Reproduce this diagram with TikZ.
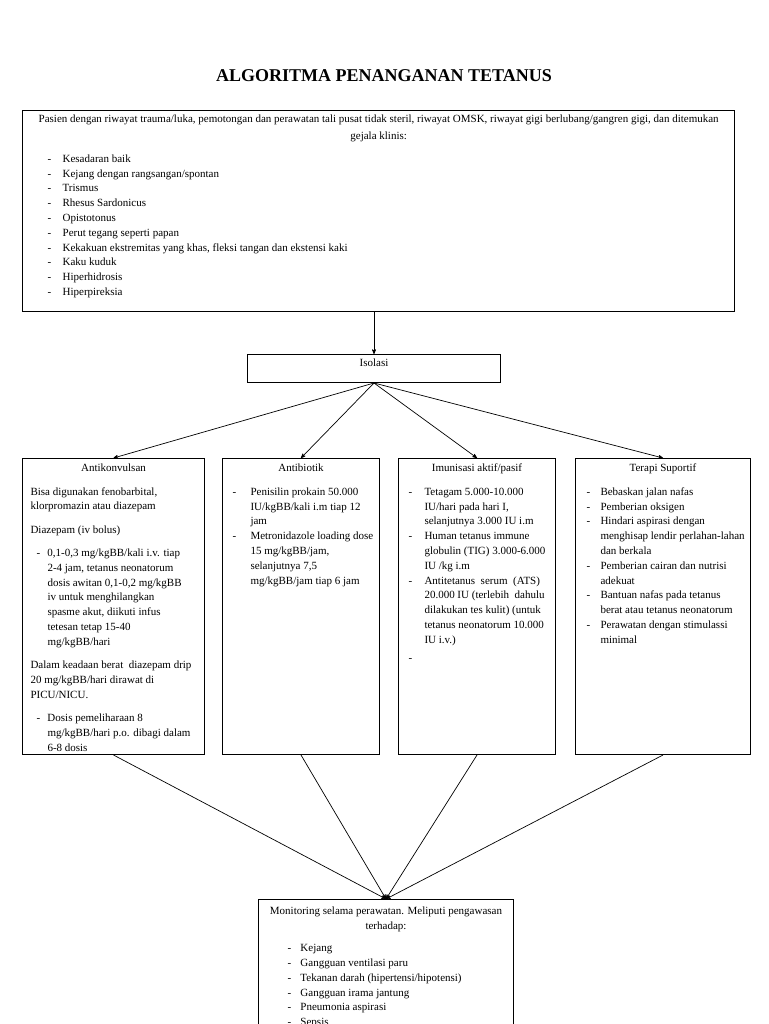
\documentclass[tikz,border=0pt]{standalone}
\usepackage{fontspec}
\setmainfont{Liberation Serif}
\usetikzlibrary{arrows,positioning}
\newlength\jarakdash
\newlength\jarakteks
% list item with a dash and hanging lines
\newcommand{\butir}[1]{\par\hangindent=\jarakteks\hangafter=1\noindent\hspace*{\jarakdash}\makebox[\dimexpr\jarakteks-\jarakdash\relax][l]{-}#1}
% margins of a box body
\newcommand{\badan}[3]{\parindent=0pt\leftskip=#1\rightskip=0pt plus 1fil\relax\setlength\jarakdash{#2}\setlength\jarakteks{#3}}
% centred heading of a box
\newcommand{\kepala}[2]{{\centering\rule{0pt}{#1}#2\par}}
\tikzset{
    %Define standard arrow tip
    >=stealth',
    font=\fontsize{11}{14.8}\selectfont,
    %Define style for boxes
    kotak/.style={
           rectangle,
           draw=black, line width=1pt,
           inner sep=0pt,
           anchor=north west},
    % Define arrow style
    panah/.style={
	   ->,
	   line width=0.7pt,
	   shorten >=0pt}
}

\begin{document}
\begin{tikzpicture}[x=1pt,y=-1pt]
  \clip (0,0) rectangle (768,1024);
  \node (judul) at (384,76) {\fontsize{18}{20}\selectfont\bfseries ALGORITMA PENANGANAN TETANUS};
  % gejala klinis
  \node[kotak, line width=1.3pt] (gejala) at (22,110) {\parbox[c][201pt][t]{712pt}{\badan{8pt}{17pt}{32pt}%
    {\centering\fontsize{11}{17}\selectfont\rule{0pt}{11.5pt}Pasien dengan riwayat trauma/luka, pemotongan dan perawatan tali pusat tidak steril, riwayat OMSK, riwayat gigi berlubang/gangren gigi, dan ditemukan\\ gejala klinis:\par}
    \vspace{8.3pt}
    \butir{Kesadaran baik}
    \butir{Kejang dengan rangsangan/spontan}
    \butir{Trismus}
    \butir{Rhesus Sardonicus}
    \butir{Opistotonus}
    \butir{Perut tegang seperti papan}
    \butir{Kekakuan ekstremitas yang khas, fleksi tangan dan ekstensi kaki}
    \butir{Kaku kuduk}
    \butir{Hiperhidrosis}
    \butir{Hiperpireksia}\par}};
  \node[kotak] (isolasi) at (247,354) {\parbox[c][28pt][t]{253pt}{\kepala{11.5pt}{Isolasi}}};
  % four treatment boxes
  \node[kotak] (antikonvulsan) at (22,458) {\parbox[c][296pt][t]{182pt}{\badan{8pt}{6pt}{17pt}%
    \kepala{13pt}{Antikonvulsan}
    \vspace{8.7pt}
    Bisa digunakan fenobarbital,\\ klorpromazin atau diazepam\par
    \vspace{8.5pt}
    Diazepam (iv bolus)\par
    \vspace{8.5pt}
    \butir{0,1-0,3 mg/kgBB/kali i.v. tiap\\ 2-4 jam, tetanus neonatorum\\ dosis awitan 0,1-0,2 mg/kgBB\\ iv untuk menghilangkan\\ spasme akut, diikuti infus\\ tetesan tetap 15-40\\ mg/kgBB/hari}\par
    \vspace{8.5pt}
    Dalam keadaan berat\ \ diazepam drip\\ 20 mg/kgBB/hari dirawat di\\ PICU/NICU.\par
    \vspace{8.5pt}
    \butir{Dosis pemeliharaan 8\\ mg/kgBB/hari p.o. dibagi dalam\\ 6-8 dosis}\par}};
  \node[kotak] (antibiotik) at (222,458) {\parbox[c][296pt][t]{157pt}{\badan{8pt}{2pt}{20pt}%
    \kepala{13pt}{Antibiotik}
    \vspace{9pt}
    \butir{Penisilin prokain 50.000\\ IU/kgBB/kali i.m tiap 12\\ jam}
    \butir{Metronidazole loading dose\\ 15 mg/kgBB/jam,\\ selanjutnya 7,5\\ mg/kgBB/jam tiap 6 jam}\par}};
  \node[kotak] (imunisasi) at (398,458) {\parbox[c][296pt][t]{157pt}{\badan{8pt}{2pt}{18pt}%
    \kepala{13pt}{Imunisasi aktif/pasif}
    \vspace{9pt}
    \butir{Tetagam 5.000-10.000\\ IU/hari pada hari I,\\ selanjutnya 3.000 IU i.m}
    \butir{Human tetanus immune\\ globulin (TIG) 3.000-6.000\\ IU /kg i.m}
    \butir{Antitetanus\ \ serum\ \ (ATS)\\ 20.000 IU (terlebih\ \ dahulu\\ dilakukan tes kulit) (untuk\\ tetanus neonatorum 10.000\\ IU i.v.)}\par
    \vspace{3pt}
    \butir{}\par}};
  \node[kotak] (terapi) at (575,458) {\parbox[c][296pt][t]{175pt}{\badan{8pt}{3pt}{17pt}%
    \kepala{13pt}{Terapi Suportif}
    \vspace{9pt}
    \butir{Bebaskan jalan nafas}
    \butir{Pemberian oksigen}
    \butir{Hindari aspirasi dengan\\ menghisap lendir perlahan-lahan\\ dan berkala}
    \butir{Pemberian cairan dan nutrisi\\ adekuat}
    \butir{Bantuan nafas pada tetanus\\ berat atau tetanus neonatorum}
    \butir{Perawatan dengan stimulassi\\ minimal}\par}};
  % monitoring
  \node[kotak] (monitoring) at (258,899) {\parbox[c][160pt][t]{255pt}{\badan{8pt}{21pt}{34pt}%
    {\centering\fontsize{11}{15}\selectfont\rule{0pt}{15pt}Monitoring selama perawatan. Meliputi pengawasan\\ terhadap:\par}
    \vspace{7.3pt}
    \butir{Kejang}
    \butir{Gangguan ventilasi paru}
    \butir{Tekanan darah (hipertensi/hipotensi)}
    \butir{Gangguan irama jantung}
    \butir{Pneumonia aspirasi}
    \butir{Sepsis}\par}};
  \path[panah]
    (isolasi.north |- gejala.south) edge (isolasi.north)
    (isolasi.south) edge (antikonvulsan.north)
    (isolasi.south) edge (antibiotik.north)
    (isolasi.south) edge (imunisasi.north)
    (isolasi.south) edge (terapi.north)
    (antikonvulsan.south) edge (monitoring.north)
    (antibiotik.south) edge (monitoring.north)
    (imunisasi.south) edge (monitoring.north)
    (terapi.south) edge (monitoring.north);
\end{tikzpicture}
\end{document}
